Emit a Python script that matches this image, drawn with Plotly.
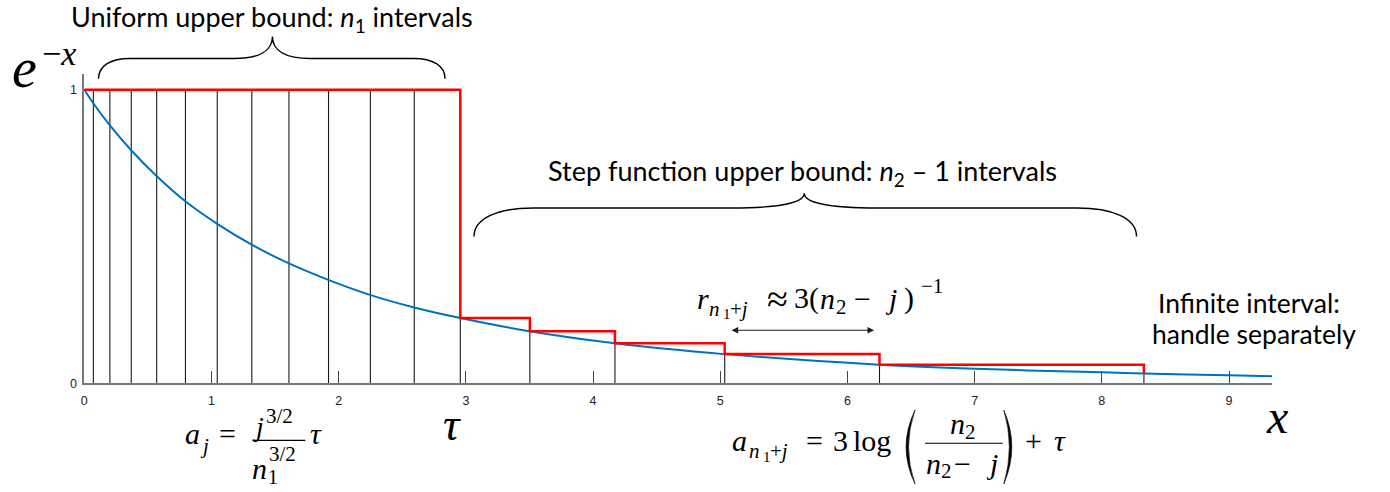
import plotly.graph_objects as go

# ---- data -------------------------------------------------------------
# e^{-x} curve samples
curve_x = [0.0, 0.069, 0.198, 0.37, 0.566, 0.794, 1.042, 1.316, 1.609, 1.918,
           2.245, 2.593, 2.956, 3.5, 4.17, 5.03, 6.25, 7.0, 8.0, 8.33, 9.0, 9.34]
curve_y = [1.0, 0.955, 0.880, 0.793, 0.707, 0.620, 0.544, 0.472, 0.408, 0.352,
           0.301, 0.258, 0.222, 0.177, 0.136, 0.099, 0.063, 0.049, 0.037, 0.033, 0.027, 0.024]

# uniform grid points a_1 .. a_{n1-1} (full-height lines), tau = a_{n1}
uniform_a = [0.071, 0.201, 0.369, 0.569, 0.795, 1.045, 1.317, 1.609, 1.920, 2.249, 2.594]
tau = 2.956

# step-function breakpoints a_{n1+j} (starting at tau) and the bound height on each step
step_a = [2.956, 3.503, 4.172, 5.035, 6.252, 8.331]
step_h = [0.222, 0.177, 0.136, 0.099, 0.063, 0.033]

x_ticks = [0, 1, 2, 3, 4, 5, 6, 7, 8, 9]
y_ticks = [0, 1]

# ---- canvas geometry --------------------------------------------------
W, H = 1390, 492
X0_PX, X1_PX = 81.5, 1272.0
Y0_PX, Y1_PX = 388.7, 75.0
X_MAX, Y_MAX = 9.34, 1.054


def px(x):
    return x / W


def py(y):
    return 1 - y / H


fig = go.Figure()

# vertical partition lines
vx, vy = [], []
for a in uniform_a:
    vx += [a, a, None]
    vy += [0, 1, None]
for a, h in zip(step_a, step_h):
    vx += [a, a, None]
    vy += [0, h, None]
fig.add_trace(go.Scatter(x=vx, y=vy, mode="lines",
                         line=dict(color="#1a1a1a", width=1.1), hoverinfo="skip"))

# the function
fig.add_trace(go.Scatter(x=curve_x, y=curve_y, mode="lines", line_shape="spline",
                         line=dict(color="#0072BD", width=2), hoverinfo="skip"))

# upper bound: constant 1 on [0, tau], then steps
red_x = [0.0] + step_a
red_y = [1.0] + step_h
fig.add_trace(go.Scatter(x=red_x, y=red_y, mode="lines", line_shape="hv",
                         line=dict(color="#FF0000", width=2.5), hoverinfo="skip"))

annotations = []
shapes = []

SERIF = "Liberation Serif, Times New Roman, serif"
SANS = "Lato"
K_MID = 0.24  # offset from baseline to the middle of a text box, in em


def put(s, x_left, baseline, size, family=SERIF):
    annotations.append(dict(
        text=s, x=px(x_left), y=py(baseline - K_MID * size),
        xref="paper", yref="paper", xanchor="left", yanchor="middle",
        showarrow=False, borderpad=0, borderwidth=0,
        font=dict(family=family, size=size, color="black")))


def label(s, xc, yc, size, family=SANS, yanchor="middle"):
    annotations.append(dict(
        text=s, x=px(xc), y=py(yc), xref="paper", yref="paper",
        xanchor="center", yanchor=yanchor, showarrow=False,
        borderpad=0, borderwidth=0,
        font=dict(family=family, size=size, color="black")))


def path_px(cmds):
    out = []
    for c in cmds:
        if isinstance(c, str):
            out.append(c)
        else:
            out.append(f"{px(c[0]):.5f},{py(c[1]):.5f}")
    return " ".join(out)


def brace(xl, xr, xc, y_end, y_flat, y_tip):
    r = 0.09 * (xr - xl)
    t = 0.11 * (xr - xl)
    p = path_px([
        "M", (xl, y_end), "C", (xl, y_flat + 0.35 * (y_end - y_flat)), (xl + 0.4 * r, y_flat), (xl + r, y_flat),
        "L", (xc - t, y_flat),
        "C", (xc - 0.35 * t, y_flat), (xc, y_flat - 0.35 * (y_flat - y_tip)), (xc, y_tip),
        "C", (xc, y_flat - 0.35 * (y_flat - y_tip)), (xc + 0.35 * t, y_flat), (xc + t, y_flat),
        "L", (xr - r, y_flat),
        "C", (xr - 0.4 * r, y_flat), (xr, y_flat + 0.35 * (y_end - y_flat)), (xr, y_end),
    ])
    shapes.append(dict(type="path", path=p, xref="paper", yref="paper",
                       line=dict(color="black", width=1.4)))


def hbar(x0, x1, y):
    shapes.append(dict(type="line", x0=px(x0), x1=px(x1), y0=py(y), y1=py(y),
                       xref="paper", yref="paper", line=dict(color="black", width=1.1)))


def paren(x_outer, x_inner, y0, y1, left=True):
    ym = (y0 + y1) / 2
    if left:
        p = path_px(["M", (x_inner, y0), "Q", (x_outer - 2, ym), (x_inner, y1),
                     "Q", (x_outer + 3, ym), (x_inner, y0), "Z"])
    else:
        p = path_px(["M", (x_inner, y0), "Q", (x_outer + 2, ym), (x_inner, y1),
                     "Q", (x_outer - 3, ym), (x_inner, y0), "Z"])
    shapes.append(dict(type="path", path=p, xref="paper", yref="paper",
                       fillcolor="black", line=dict(color="black", width=0.6)))


# headings and braces
label("Uniform upper bound: <i>n</i><sub>1</sub> intervals", 270, 0.5, 27, yanchor="top")
brace(95.7, 443, 270, 80, 59.3, 37)
label("Step function upper bound: <i>n</i><sub>2</sub> – 1 intervals", 801, 175, 27)
brace(472, 1136, 803, 240, 211, 196)
label("Infinite interval:", 1249, 307, 26.5)
label("handle separately", 1254, 339, 26.5)

# axis symbols
put("<i>e</i>", 9, 82, 56)
put("−<i>x</i>", 39, 62, 34)
put("<i>τ</i>", 441, 442, 46)
put("<i>x</i>", 1266, 434, 48)

# a_j = j^{3/2} / n1^{3/2} tau
put("<i>a</i>", 182, 447, 30)
put("<i>j</i>", 197, 457, 21)
put("=", 216, 447, 30)
put("<i>j</i>", 251, 439, 28)
put("3/2", 264, 427, 21)
hbar(250, 303, 446.7)
put("<i>n</i>", 250, 482, 30)
put("1", 266, 489, 20)
put("3/2", 267, 466, 21)
put("<i>τ</i>", 308, 447, 30)

# a_{n1+j} = 3 log(n2 / (n2 - j)) + tau
put("<i>a</i>", 731, 454, 30)
put("<i>n</i>", 748, 463, 21)
put("1", 762, 467, 15)
put("+<i>j</i>", 769, 463, 21)
put("=", 805, 454, 30)
put("3", 832, 454, 30)
put("log", 852, 454, 30)
paren(898, 914, 416, 491, left=True)
put("<i>n</i>", 949, 437, 30)
put("2", 964, 443, 21)
hbar(924, 1002, 449.6)
put("<i>n</i>", 925, 477, 30)
put("2", 940, 483, 21)
put("−", 953, 477, 30)
put("<i>j</i>", 985, 477, 30)
paren(1017, 1003, 416, 491, left=False)
put("+", 1024, 454, 30)
put("<i>τ</i>", 1053, 454, 30)

# r_{n1+j} ~ 3 (n2 - j)^{-1}
put("<i>r</i>", 695, 310, 30)
put("<i>n</i>", 708, 318, 21)
put("1", 722, 322, 15)
put("+<i>j</i>", 729, 318, 21)
put("≈", 766, 312, 38)
put("3(", 793, 310, 30)
put("<i>n</i>", 819, 310, 30)
put("2", 835, 316, 21)
put("−", 853, 310, 30)
put("<i>j</i>", 884, 310, 30)
put(")", 903, 310, 30)
put("−1", 920, 295, 21)

# double-headed arrow marking one interval width
annotations.append(dict(x=px(873), y=py(335), ax=-144, ay=0, xref="paper", yref="paper",
                        text="", showarrow=True, arrowhead=2, arrowside="end+start",
                        arrowsize=1.2, arrowwidth=1.1, arrowcolor="#1a1a1a"))

fig.update_layout(
    width=W, height=H, autosize=False,
    margin=dict(l=0, r=0, t=0, b=0),
    paper_bgcolor="white", plot_bgcolor="white",
    showlegend=False, hovermode=False,
    annotations=annotations, shapes=shapes,
    xaxis=dict(domain=[px(X0_PX), px(X1_PX)], range=[0, X_MAX],
               tickvals=x_ticks, ticktext=[str(t) for t in x_ticks],
               ticks="inside", ticklen=12, tickwidth=1, tickcolor="#444",
               showline=True, linecolor="#777", linewidth=1.5,
               showgrid=False, zeroline=False, ticklabelstandoff=5,
               tickfont=dict(family="Liberation Sans", size=12.5, color="#222")),
    yaxis=dict(domain=[py(Y0_PX), py(Y1_PX)], range=[0, Y_MAX],
               tickvals=y_ticks, ticktext=[str(t) for t in y_ticks],
               ticks="inside", ticklen=12, tickwidth=1, tickcolor="#444",
               showline=True, linecolor="#777", linewidth=1.5,
               showgrid=False, zeroline=False, ticklabelstandoff=3,
               tickfont=dict(family="Liberation Sans", size=12.5, color="#222")),
)

fig.write_html("out.html")
